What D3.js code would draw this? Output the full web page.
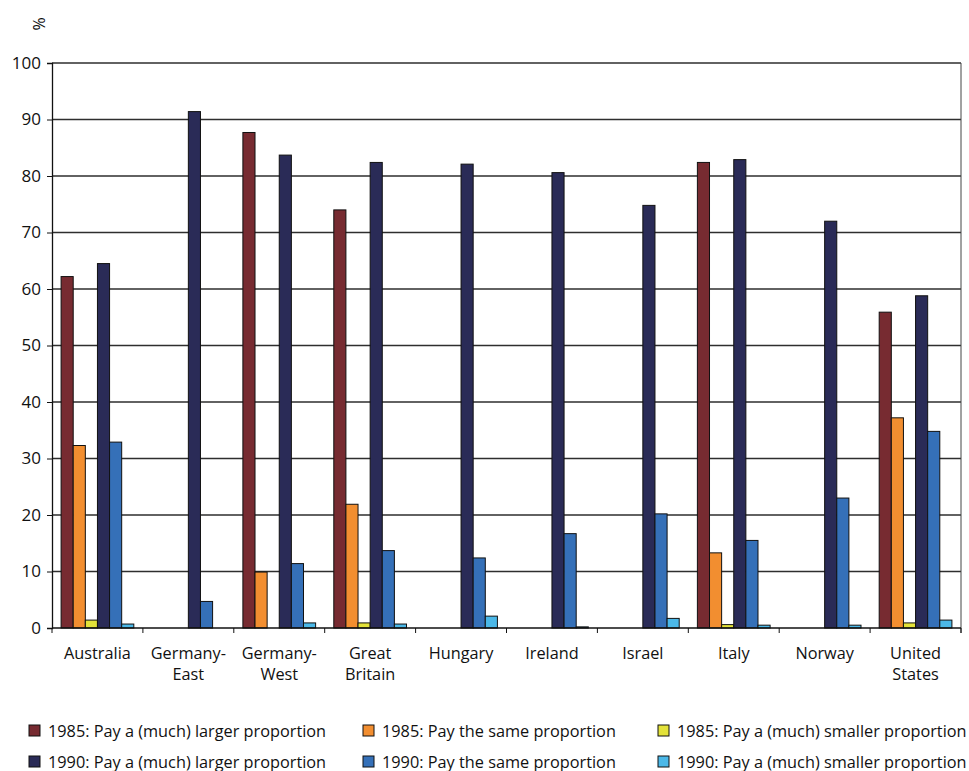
<!DOCTYPE html>
<html><head><meta charset="utf-8">
<script src="https://cdn.jsdelivr.net/npm/d3@7/dist/d3.min.js"></script>
<style>body{margin:0;background:#fff;} text{font-family:"Open Sans",sans-serif;fill:#111;}</style>
</head><body>
<svg id="chart" width="969" height="771"></svg>
<script>
const categories = ["Australia","Germany-East","Germany-West","Great Britain","Hungary","Ireland","Israel","Italy","Norway","United States"];
const categoryLines = [["Australia"],["Germany-","East"],["Germany-","West"],["Great","Britain"],["Hungary"],["Ireland"],["Israel"],["Italy"],["Norway"],["United","States"]];
const seriesNames = ["1985: Pay a (much) larger proportion","1985: Pay the same proportion","1985: Pay a (much) smaller proportion","1990: Pay a (much) larger proportion","1990: Pay the same proportion","1990: Pay a (much) smaller proportion"];
const larger1985  = [62.2, null, 87.7, 74.0, null, null, null, 82.4, null, 55.9];
const same1985    = [32.3, null, 9.9, 21.9, null, null, null, 13.3, null, 37.2];
const smaller1985 = [1.4, null, 0.0, 0.9, null, null, null, 0.6, null, 0.9];
const larger1990  = [64.5, 91.4, 83.7, 82.4, 82.1, 80.6, 74.8, 82.9, 72.0, 58.8];
const same1990    = [32.9, 4.7, 11.4, 13.7, 12.4, 16.7, 20.2, 15.5, 23.0, 34.8];
const smaller1990 = [0.7, 0.0, 0.9, 0.7, 2.1, 0.2, 1.7, 0.5, 0.5, 1.4];
const yTicks = [0,10,20,30,40,50,60,70,80,90,100];
const colors = ["#772B31","#F28E30","#E3E23A","#2A2B57","#3570B8","#4BB8E8"];

const series = [larger1985, same1985, smaller1985, larger1990, same1990, smaller1990];

const svg = d3.select("#chart");
const m = {left:52, right:961, top:63, bottom:628};
const x = d3.scaleBand().domain(categories).range([m.left, m.right]).paddingInner(0).paddingOuter(0);
const xi = d3.scaleBand().domain(d3.range(6)).range([0, x.bandwidth()]).paddingOuter(0.75).paddingInner(0);
const y = d3.scaleLinear().domain([0,100]).range([m.bottom, m.top]);

// gridlines
svg.append("g").selectAll("line").data(yTicks.filter(d=>d>0)).join("line")
  .attr("x1", m.left).attr("x2", m.right).attr("y1", d=>y(d)).attr("y2", d=>y(d))
  .attr("stroke","#2e2e2e").attr("stroke-width",1.3);
// right border
svg.append("line").attr("x1",m.right).attr("x2",m.right).attr("y1",m.top).attr("y2",m.bottom+5).attr("stroke","#444").attr("stroke-width",1);

// y axis
const yAxis = svg.append("g").attr("transform",`translate(${m.left},0)`)
  .call(d3.axisLeft(y).tickValues(yTicks).tickSize(5).tickPadding(6));
yAxis.select(".domain").attr("stroke","#111").attr("stroke-width",1.3);
yAxis.selectAll(".tick line").attr("stroke","#111");
yAxis.selectAll("text").style("font-size","17px").attr("fill","#111").style("font-family","Open Sans, sans-serif");

// bars
series.forEach((vals, si) => {
  svg.append("g").selectAll("rect").data(categories.map((c,i)=>({c, v: vals[i]})).filter(d=>d.v!==null && d.v>0)).join("rect")
    .attr("x", d=>x(d.c)+xi(si)).attr("width", xi.bandwidth())
    .attr("y", d=>y(d.v)).attr("height", d=>y(0)-y(d.v))
    .attr("fill", colors[si]).attr("stroke","#111").attr("stroke-width",1);
});

// x axis
const xAxis = svg.append("g").attr("transform",`translate(0,${m.bottom})`);
xAxis.append("line").attr("x1",m.left).attr("x2",m.right).attr("stroke","#111").attr("stroke-width",1.3);
const bounds = d3.range(categories.length+1).map(i=>m.left + i*x.step());
xAxis.selectAll(".tk").data(bounds).join("line").attr("class","tk")
  .attr("x1",d=>d).attr("x2",d=>d).attr("y1",0).attr("y2",5).attr("stroke","#111");
categories.forEach((c,i)=>{
  const t = xAxis.append("text").attr("text-anchor","middle").style("font-size","16.3px")
    .attr("x", x(c)+x.bandwidth()/2).attr("y", 31);
  categoryLines[i].forEach((ln,j)=>{
    t.append("tspan").attr("x", x(c)+x.bandwidth()/2).attr("dy", j===0?0:21).text(ln);
  });
});

// y label
svg.append("text").attr("transform","translate(45,24) rotate(-90)").attr("text-anchor","middle")
  .style("font-size","16px").text("%");

// legend
const legX = [29, 363, 658], legY = [731, 762];
seriesNames.forEach((n,i)=>{
  const col = i%3, row = Math.floor(i/3);
  const g = svg.append("g").attr("transform",`translate(${legX[col]},${legY[row]})`);
  g.append("rect").attr("x",0).attr("y",-6).attr("width",11).attr("height",11)
    .attr("fill",colors[i]).attr("stroke","#111").attr("stroke-width",1);
  g.append("text").attr("x",19).attr("y",5.5).style("font-size","16.3px").text(n);
});
</script>
</body></html>
